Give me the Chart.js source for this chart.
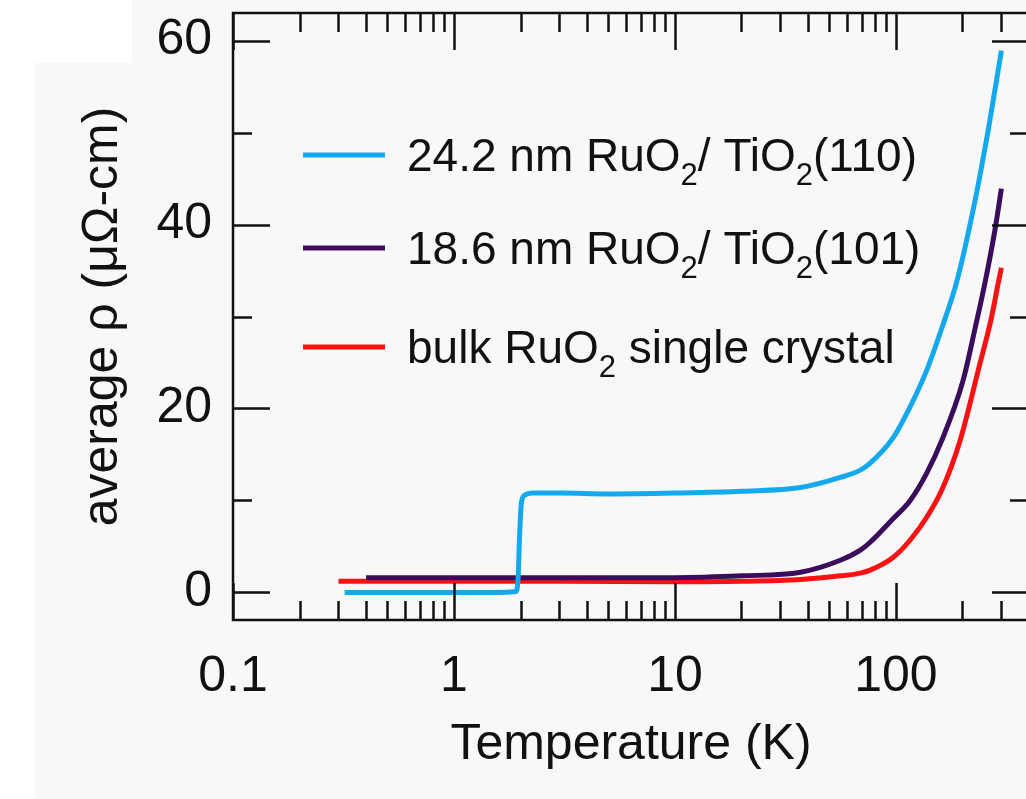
<!DOCTYPE html>
<html>
<head>
  <meta charset="utf-8">
  <script src="https://cdn.jsdelivr.net/npm/chart.js"></script>
  <style>
    html, body { margin: 0; width: 1026px; height: 799px; overflow: hidden; background: #ffffff; }
    .bg { position: absolute; left: 35px; top: 0; width: 1000px; height: 799px; background: #f8f8f8; }
    .corner { position: absolute; left: 35px; top: 0; width: 97px; height: 63px; background: #ffffff; }
    #chart { position: absolute; left: 0; top: 0; }
  </style>
</head>
<body>
  <div class="bg"></div>
  <div class="corner"></div>
  <canvas id="chart" width="1040" height="799"></canvas>

  <script>
    // temperature (K) and average resistivity (µΩ-cm)
    const tempBlue = [0.32, 0.6, 1, 1.5, 1.9, 1.95, 1.98, 2.02, 2.1, 2.3, 3, 5, 10, 20, 37, 56, 69, 76, 97, 116, 138, 161, 189, 228, 266, 300];
    const rhoBlue  = [0, 0, 0, 0, 0.1, 1.5, 6, 9.8, 10.6, 10.8, 10.8, 10.7, 10.8, 11.0, 11.4, 12.5, 13.3, 14.0, 16.8, 20.2, 24.2, 28.7, 33.9, 42.6, 51.3, 58.9];

    const tempPurple = [0.4, 1, 3, 10, 20, 37, 56, 69, 76, 97, 116, 138, 161, 201, 228, 253, 280, 300];
    const rhoPurple  = [1.6, 1.6, 1.6, 1.6, 1.8, 2.2, 3.5, 4.6, 5.4, 8.0, 10.0, 13.0, 16.5, 23.0, 28.7, 33.7, 39.3, 43.9];

    const tempRed = [0.3, 1, 3, 10, 20, 37, 56, 69, 76, 97, 116, 138, 161, 195, 240, 270, 290, 300];
    const rhoRed  = [1.2, 1.2, 1.2, 1.15, 1.2, 1.4, 1.8, 2.1, 2.4, 3.8, 5.7, 8.2, 11.1, 16.5, 24.9, 29.8, 33.6, 35.3];

    const seriesLabels = ['24.2 nm RuO_2/ TiO_2(110)', '18.6 nm RuO_2/ TiO_2(101)', 'bulk RuO_2 single crystal'];
    const seriesColors = ['#14a9ef', '#3c0c5c', '#fa1212'];

    const xMajor = [0.1, 1, 10, 100];
    const xMinor = [0.2, 0.3, 0.4, 0.5, 0.6, 0.7, 0.8, 0.9, 2, 3, 4, 5, 6, 7, 8, 9,
                    20, 30, 40, 50, 60, 70, 80, 90, 200, 300];
    const yMajor = [0, 20, 40, 60];
    const yMinor = [10, 30, 50];

    const xTitle = 'Temperature (K)';
    const yTitle = 'average ρ (μΩ-cm)';

    const FONT = '"Liberation Sans", Arial, Helvetica, sans-serif';
    const INK = '#111111';

    function toPoints(xs, ys) {
      return xs.map((x, i) => ({ x: x, y: ys[i] }));
    }

    // chart.js adds room for label overhang, we don't want it here
    function noOverhang(s) {
      s.paddingTop = 0; s.paddingBottom = 0;
      s.paddingLeft = 0; s.paddingRight = 0;
    }

    // frame + inward ticks on all four sides
    const frameTicks = {
      id: 'frameTicks',
      afterDraw(chart) {
        const { ctx, chartArea: a } = chart;
        const sx = chart.scales.x, sy = chart.scales.y;
        ctx.save();
        ctx.strokeStyle = INK;
        ctx.lineWidth = 2.5;
        ctx.strokeRect(a.left, a.top, a.right - a.left, a.bottom - a.top);
        ctx.beginPath();
        const xt = (vals, len) => vals.forEach(v => {
          const px = Math.round(sx.getPixelForValue(v)) + 0.5;
          ctx.moveTo(px, a.bottom); ctx.lineTo(px, a.bottom - len);
          ctx.moveTo(px, a.top); ctx.lineTo(px, a.top + len);
        });
        const yt = (vals, len) => vals.forEach(v => {
          const py = Math.round(sy.getPixelForValue(v)) + 0.5;
          ctx.moveTo(a.left, py); ctx.lineTo(a.left + len, py);
          ctx.moveTo(a.right, py); ctx.lineTo(a.right - len, py);
        });
        xt(xMajor, 37); xt(xMinor, 19);
        yt(yMajor, 37); yt(yMinor, 19);
        ctx.stroke();
        ctx.restore();
      }
    };

    // legend inside the plot, with subscripts
    const insideLegend = {
      id: 'insideLegend',
      afterDraw(chart) {
        const { ctx, chartArea: a } = chart;
        const rows = [142, 235, 334];
        ctx.save();
        chart.data.datasets.forEach((ds, i) => {
          const y = a.top + rows[i];
          ctx.strokeStyle = ds.borderColor;
          ctx.lineWidth = 5;
          ctx.beginPath();
          ctx.moveTo(a.left + 70, y);
          ctx.lineTo(a.left + 152, y);
          ctx.stroke();

          let x = a.left + 174;
          const base = y + 16;
          ctx.fillStyle = INK;
          ctx.textBaseline = 'alphabetic';
          ctx.textAlign = 'left';
          ds.label.split(/(_\d)/).forEach(part => {
            if (!part) return;
            if (part[0] === '_') {
              ctx.font = '31px ' + FONT;
              ctx.fillText(part.slice(1), x, base + 14);
              x += ctx.measureText(part.slice(1)).width;
            } else {
              ctx.font = '46px ' + FONT;
              ctx.fillText(part, x, base);
              x += ctx.measureText(part).width;
            }
          });
        });
        ctx.restore();
      }
    };

    const datasets = [
      { data: toPoints(tempBlue, rhoBlue) },
      { data: toPoints(tempPurple, rhoPurple) },
      { data: toPoints(tempRed, rhoRed) }
    ].map((d, i) => Object.assign(d, {
      label: seriesLabels[i],
      borderColor: seriesColors[i],
      backgroundColor: seriesColors[i],
      borderWidth: 5,
      pointRadius: 0,
      fill: false,
      cubicInterpolationMode: 'monotone'
    }));

    new Chart(document.getElementById('chart').getContext('2d'), {
      type: 'line',
      data: { datasets: datasets },
      options: {
        responsive: false,
        animation: false,
        events: [],
        layout: { padding: { left: 78, top: 13, right: 11, bottom: 29 } },
        plugins: { legend: { display: false }, tooltip: { enabled: false } },
        scales: {
          x: {
            type: 'logarithmic',
            min: 0.1,
            max: 400,
            grid: { display: false, drawTicks: false },
            border: { display: false },
            afterBuildTicks: s => { s.ticks = xMajor.map(v => ({ value: v })); },
            afterFit: s => { s.height = 150; noOverhang(s); },
            ticks: {
              autoSkip: false,
              maxRotation: 0,
              padding: 32,
              color: INK,
              font: { family: FONT, size: 50, lineHeight: 1 },
              callback: v => String(v)
            },
            title: {
              display: true,
              text: xTitle,
              color: INK,
              padding: 0,
              font: { family: FONT, size: 50, lineHeight: 1 }
            }
          },
          y: {
            min: -3,
            max: 63,
            grid: { display: false, drawTicks: false },
            border: { display: false },
            afterBuildTicks: s => { s.ticks = yMajor.map(v => ({ value: v })); },
            afterFit: s => { s.width = 155; noOverhang(s); },
            ticks: {
              padding: 21,
              color: INK,
              font: { family: FONT, size: 50, lineHeight: 1 }
            },
            title: {
              display: true,
              text: yTitle,
              color: INK,
              padding: 0,
              font: { family: FONT, size: 50, lineHeight: 1 }
            }
          }
        }
      },
      plugins: [frameTicks, insideLegend]
    });
  </script>
</body>
</html>
